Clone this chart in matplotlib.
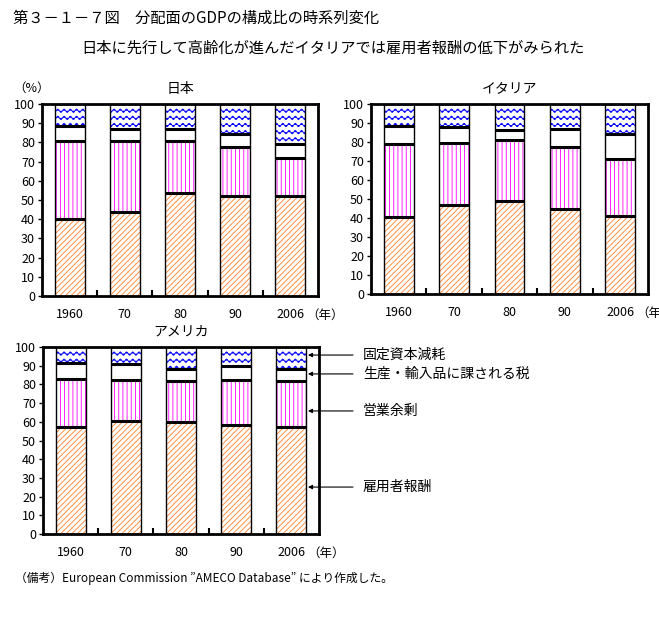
import warnings
warnings.filterwarnings('ignore')
import numpy as np
import matplotlib
matplotlib.use('Agg')
import matplotlib.pyplot as plt
import matplotlib.hatch as mhatch
import matplotlib.transforms as mtrans
from matplotlib.path import Path

plt.rcParams['font.family'] = ['Noto Sans CJK JP', 'DejaVu Sans']
plt.rcParams['hatch.linewidth'] = 0.6

# ---------------- data ----------------
years = ['1960', '70', '80', '90', '2006']
components = ['雇用者報酬', '営業余剰', '生産・輸入品に課される税', '固定資本減耗']
# cumulative tops (%) of each component
japan_coe = [40.1, 43.6, 53.8, 51.9, 51.9]
japan_os = [80.6, 80.6, 80.6, 77.6, 71.7]
japan_tax = [88.7, 87.2, 87.2, 84.5, 79.2]
italy_coe = [40.6, 46.6, 48.7, 44.8, 41.3]
italy_os = [79.2, 79.7, 81.3, 77.4, 70.8]
italy_tax = [88.3, 87.9, 86.5, 86.7, 84.1]
usa_coe = [57.4, 60.6, 60.1, 58.3, 57.1]
usa_os = [83.0, 82.1, 81.6, 82.5, 81.6]
usa_tax = [91.4, 91.1, 88.4, 89.6, 88.2]
total = [100, 100, 100, 100, 100]

legend_pos = [95.7, 85.6, 65.8, 25.1]  # where arrows point (US 2006 bar)
legend_labels = ['固定資本減耗', '生産・輸入品に課される税', '営業余剰', '雇用者報酬']


# ---------------- wave hatch ----------------
class WaveHatch(mhatch.HatchPatternBase):
    def __init__(self, hatch, density):
        self.num_rows = int(hatch.count('~') * density * 0.8)
        self.periods = int(self.num_rows * 1.15)
        self.pts = self.periods * 8 + 1 if self.num_rows else 0
        self.num_vertices = self.num_rows * self.pts

    def set_vertices_and_codes(self, vertices, codes):
        t = np.linspace(0, 1, self.pts)
        amp = 0.017
        for i in range(self.num_rows):
            y0 = (i + 0.5) / self.num_rows
            sl = slice(i * self.pts, (i + 1) * self.pts)
            vertices[sl, 0] = t
            vertices[sl, 1] = y0 + amp * np.sin(2 * np.pi * self.periods * t)
            codes[sl] = Path.LINETO
            codes[i * self.pts] = Path.MOVETO


mhatch._hatch_types.append(WaveHatch)

W, H = 659, 623
fig = plt.figure(figsize=(W / 100, H / 100), dpi=100)


def rect(l, t, r, b):
    return [l / W, 1 - b / H, (r - l) / W, (b - t) / H]


styles = [
    dict(color='#FF7F27', hatch='//////'),
    dict(color='#FF00FF', hatch='||||'),
    dict(color=None, hatch=None),
    dict(color='#0000FF', hatch='~~~'),
]


def panel(pos, coe, os_, tax, title):
    ax = fig.add_axes(pos)
    x = np.arange(len(years))
    width = 0.54
    tops = [np.array(coe), np.array(os_), np.array(tax), np.array(total)]
    bottoms = [np.zeros(len(years)), np.array(coe), np.array(os_), np.array(tax)]
    for top, bot, st in zip(tops, bottoms, styles):
        if st['hatch']:
            ax.bar(x, top - bot, width, bottom=bot, color='white',
                   edgecolor=st['color'], hatch=st['hatch'], linewidth=0, zorder=2)
        ax.bar(x, top - bot, width, bottom=bot, fill=False,
               edgecolor='black', linewidth=1.0, zorder=3)
    for top in tops[:3]:
        ax.hlines(top, x - width / 2, x + width / 2, colors='black',
                  linewidth=2.2, zorder=4)
    ax.set_xlim(-0.5, 4.5)
    ax.set_ylim(0, 100)
    ax.set_yticks(range(0, 101, 10))
    ax.set_xticks(x)
    ax.set_xticklabels(years)
    ax.set_xticks(x[:-1] + 0.5, minor=True)
    ax.tick_params(axis='x', which='major', length=0, pad=9, labelsize=9)
    ax.tick_params(axis='x', which='minor', length=4, width=1.5, direction='in')
    ax.tick_params(axis='y', length=3, width=1, direction='out', pad=2, labelsize=9)
    for s in ax.spines.values():
        s.set_linewidth(2)
        s.set_zorder(5)
    ax.set_title(title, fontsize=10, pad=8)
    ax.annotate('（年）', xy=(4, 0), xycoords=('data', 'axes fraction'),
                xytext=(11.5, -9), textcoords='offset points',
                ha='left', va='top', fontsize=9, annotation_clip=False)
    return ax


ax_jp = panel(rect(42, 104, 318, 296), japan_coe, japan_os, japan_tax, '日本')
ax_it = panel(rect(371, 104, 648, 294), italy_coe, italy_os, italy_tax, 'イタリア')
ax_us = panel(rect(43, 347, 319, 534), usa_coe, usa_os, usa_tax, 'アメリカ')

# legend arrows
tr = mtrans.blended_transform_factory(fig.transFigure, ax_us.transData)
for val, lab in zip(legend_pos, legend_labels):
    ax_us.annotate('', xy=(4.3, val), xycoords='data',
                   xytext=(353 / W, val), textcoords=('figure fraction', 'data'),
                   arrowprops=dict(arrowstyle='-|>', color='black', lw=0.8,
                                   mutation_scale=6, shrinkA=0, shrinkB=0),
                   annotation_clip=False)
    fig.text(363 / W, val, lab, transform=tr, ha='left', va='center', fontsize=10)

# texts
fig.text(13 / W, 1 - 18 / H, '第３－１－７図　分配面のGDPの構成比の時系列変化',
         ha='left', va='center', fontsize=11)
fig.text(333 / W, 1 - 48 / H, '日本に先行して高齢化が進んだイタリアでは雇用者報酬の低下がみられた',
         ha='center', va='center', fontsize=11)
fig.text(13 / W, 1 - 88 / H, '（%）', ha='left', va='center', fontsize=9)
fig.text(15 / W, 1 - 578 / H,
         '（備考）European Commission ”AMECO Database” により作成した。',
         ha='left', va='center', fontsize=8.5)

fig.savefig('out.png', dpi=100)
